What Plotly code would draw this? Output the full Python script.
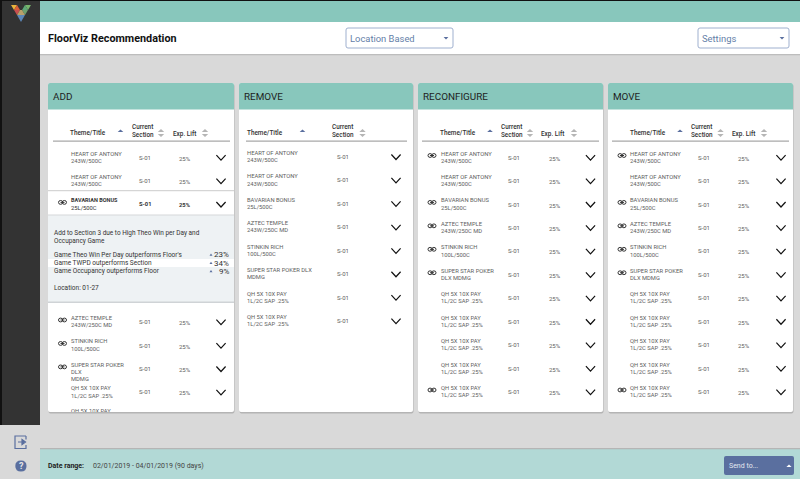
import plotly.graph_objects as go

# ---- content ----
PAGE_TITLE = "FloorViz Recommendation"
DROPDOWN_LOCATION = "Location Based"
DROPDOWN_SETTINGS = "Settings"
DATE_LABEL = "Date range:"
DATE_VALUE = "02/01/2019 - 04/01/2019 (90 days)"
SEND_LABEL = "Send to..."
HEART = ["HEART OF ANTONY", "243W/500C"]
BAVARIAN = ["BAVARIAN BONUS", "25L/500C"]
AZTEC = ["AZTEC TEMPLE", "243W/250C MD"]
STINKIN = ["STINKIN RICH", "100L/500C"]
QH = ["QH 5X 10X PAY", "1L/2C SAP .25%"]
SUPER_2 = ["SUPER STAR POKER", "DLX MDMG"]
SUPER_2B = ["SUPER STAR POKER DLX", "MDMG"]
SUPER_3 = ["SUPER STAR POKER", "DLX", "MDMG"]
SECTION = "S-01"
LIFT = "25%"
ADD_ROWS_TOP = [HEART, HEART]
ADD_SELECTED = BAVARIAN
ADD_ROWS_BOTTOM = [AZTEC, STINKIN, SUPER_3, QH]
REMOVE_ROWS = [HEART, HEART, BAVARIAN, AZTEC, STINKIN, SUPER_2B, QH, QH]
LONG_ROWS = [HEART, HEART, BAVARIAN, AZTEC, STINKIN, SUPER_2, QH, QH, QH, QH, QH]
LONG_LINKS = [True, False, True, True, True, True, False, False, False, False, True]
DETAIL_INTRO = ["Add to Section 3 due to High Theo Win per Day and", "Occupancy Game"]
DETAIL_LINES = ["Game Theo Win Per Day outperforms Floor's", "Game TWPD outperforms Section", "Game Occupancy outperforms Floor"]
DETAIL_VALUES = ["23%", "34%", "9%"]
DETAIL_LOCATION = "Location: 01-27"

W, H = 800, 479
TEAL = "#88C7BC"; GREY = "#D9D9D9"; DARK = "#333333"; BLUE = "#5A6F9F"; TXT = "#606060"
FONT = "Roboto"
shapes, notes = [], []


def rect(x0, y0, x1, y1, fill, r=0, line=None, lw=1, layer="below"):
    if r:
        p = (f"M{x0+r},{y0}L{x1-r},{y0}Q{x1},{y0} {x1},{y0+r}L{x1},{y1-r}Q{x1},{y1} {x1-r},{y1}"
             f"L{x0+r},{y1}Q{x0},{y1} {x0},{y1-r}L{x0},{y0+r}Q{x0},{y0} {x0+r},{y0}Z")
        shapes.append(dict(type="path", path=p, fillcolor=fill, line=dict(color=line or fill, width=lw if line else 0), layer=layer))
    else:
        shapes.append(dict(type="rect", x0=x0, y0=y0, x1=x1, y1=y1, fillcolor=fill, line=dict(width=0), layer=layer))


def path(d, fill=None, color=None, lw=1):
    shapes.append(dict(type="path", path=d, fillcolor=fill or "rgba(0,0,0,0)",
                       line=dict(color=color or "rgba(0,0,0,0)", width=lw if color else 0), layer="below"))


def text(x, y, s, size=7, color=TXT, anchor="left", bold=False, family=FONT):
    notes.append(dict(x=x, y=y, text=f"<b>{s}</b>" if bold else s, showarrow=False, xanchor=anchor, yanchor="middle",
                      font=dict(family=family, size=size, color=color), borderpad=0, borderwidth=0))


def tri(x, y, up=True, w=3.2, h=2.6, color=BLUE):
    s = -1 if up else 1
    path(f"M{x-w},{y}L{x+w},{y}L{x},{y+s*h}Z", fill=color)


def sort_pair(x, y):
    tri(x, y - 1, True, h=3, color="#B5B5B5")
    tri(x, y + 1, False, h=3, color="#B5B5B5")


def chevron(x, y):
    path(f"M{x-4.6},{y-2.6}L{x},{y+2.4}L{x+4.6},{y-2.6}", color="#111111", lw=1.2)


def link(x, y):
    for cx in (x - 1.9, x + 1.9):
        path(f"M{cx-2.1},{y}Q{cx-2.1},{y-1.9} {cx},{y-1.9}Q{cx+2.1},{y-1.9} {cx+2.1},{y}Q{cx+2.1},{y+1.9} {cx},{y+1.9}Q{cx-2.1},{y+1.9} {cx-2.1},{y}Z",
             color="#333333", lw=1.0)
    path(f"M{x-2},{y}L{x+2},{y}", color="#333333", lw=1.0)


def row(y, lines, xs, has_link=False, show_lift=True, bold=False):
    title_x, sec_x, lift_x, chev_x, link_x = xs
    c = "#333333" if bold else TXT
    for i, l in enumerate(lines):
        text(title_x, y + i * 7.2, l, size=5.5 if bold and i == 0 else 5.8, bold=bold and i == 0, color=c)
    text(sec_x, y + 3.6, SECTION, size=5.8 if bold else 6, bold=bold, color=c)
    if show_lift:
        text(lift_x, y + 4.6, LIFT, size=5.8 if bold else 6, bold=bold, color=c)
    chevron(chev_x, y + 4.2)
    if has_link:
        link(link_x, y + 2)


def panel(x0, x1, name):
    rect(x0 + 0.5, 84, x1 + 0.5, 413.5, "#B4B4B4", r=2)
    rect(x0, 83, x1, 412, "#FFFFFF", r=2)
    rect(x0, 83, x1, 109, TEAL, r=2)
    rect(x0, 100, x1, 109.5, TEAL)
    text(x0 + 5, 96, name, size=9.9, color="#1E1E1E")


def head(x0, x1, title_x, arrow_x, sec_x, sec_arrow, lift_x=None, lift_arrow=None):
    text(title_x, 132.5, "Theme/Title", size=6.4, color="#333333", family="Roboto Medium, Roboto")
    tri(arrow_x, 132, True, w=2.8, h=2.6)
    text(sec_x, 127, "Current", size=6.4, color="#333333", family="Roboto Medium, Roboto")
    text(sec_x, 134.5, "Section", size=6.4, color="#333333", family="Roboto Medium, Roboto")
    sort_pair(sec_arrow, 133)
    if lift_x:
        text(lift_x, 133.5, "Exp. Lift", size=6.4, color="#333333", family="Roboto Medium, Roboto")
        sort_pair(lift_arrow, 133)
    rect(x0, 140.5, x1, 141.8, "#A8A8A8")


# ---- page chrome ----
rect(0, 0, W, H, GREY)
rect(40, 0, W, 22, TEAL)
rect(40, 22, W, 54, "#FFFFFF")
rect(40, 54, W, 55.3, "#BDBDBD")
rect(0, 0, W, 1, "#111111")
rect(0, 0, 2, 425, "#111111")
rect(2, 1, 40, 425, DARK)
rect(40, 449, W, H, "#B2D9D6")
rect(40, 448, W, 449.3, "#B5B5B5")
text(48, 38.5, PAGE_TITLE, size=10.8, color="#111111", bold=True)

# logo
for pts, c in [
    ("M11,5L17,5L14,10Z", "#E8B33C"), ("M17,5L14,10L20,10Z", "#D95F3B"), ("M14,10L20,10L17,15Z", "#C94F4F"),
    ("M25,5L31,5L28,10Z", "#77B56C"), ("M25,5L22,10L28,10Z", "#5FA777"), ("M22,10L28,10L25,15Z", "#6E9F6E"),
    ("M17,15L25,15L21,22Z", "#5C86B8"), ("M20,10L22,10L25,15L17,15Z", "#B9A06A"),
]:
    path(pts, fill=c)

# dropdowns
for x0, x1, s in [(346, 453, DROPDOWN_LOCATION), (698, 789, DROPDOWN_SETTINGS)]:
    rect(x0, 28, x1, 48, "#FFFFFF", r=2, line="#9FB0CF", lw=1)
    text(x0 + 3.5, 38.5, s, size=9.4, color="#6480A8")
    tri(x1 - 7, 37, False, w=2.4, h=2.4)

# bottom bar
text(48, 466, DATE_LABEL, size=7, color="#222222", bold=True)
text(93, 466, DATE_VALUE, size=7, color="#444444")
rect(724, 456, 794, 475, BLUE, r=2)
text(729, 465.5, SEND_LABEL, size=7, color="#E3E8F0")
tri(789, 467, True, w=2.6, h=2.6, color="#FFFFFF")

# sidebar icons
path("M26,436L15,436L15,448.5L26,448.5L26,445M26,439.5L26,436", color=BLUE, lw=1.2)
path("M18,442L24,442M22,439.5L25.5,442L22,444.5Z", fill=BLUE, color=BLUE, lw=1.2)
path("M15.3,466Q15.3,460.5 21,460.5Q26.5,460.5 26.5,466Q26.5,471.5 21,471.5Q15.3,471.5 15.3,466Z", fill=BLUE)
text(21, 466, "?", size=9, color="#E6E6E6", anchor="center", bold=True)

# ---- panels ----
PITCH = 23.45
ROW0 = 153.5

# ADD
panel(48, 234, "ADD")
head(53, 230, 70, 120.5, 132, 161, 172.5, 205)
add_x = (71, 139, 179, 221, 62.5)
for i, r in enumerate(ADD_ROWS_TOP):
    row(ROW0 + i * PITCH, r, add_x)
rect(48, 190, 234, 191.2, "#D5D5D5")
row(ROW0 + 2 * PITCH, ADD_SELECTED, add_x, has_link=True, bold=True)
rect(48, 215, 234, 302, "#EEF2F4")
rect(48, 214.5, 234, 215.5, "#D5D8DA")
rect(48, 301.5, 234, 303, "#CFD3D6")
rect(48, 259, 234, 267, "#FFFFFF")
for i, s in enumerate(DETAIL_INTRO):
    text(54, 232.6 + i * 8, s, size=6.45, color="#333333")
for i, (s, v) in enumerate(zip(DETAIL_LINES, DETAIL_VALUES)):
    y = 254.8 + i * 8.2
    text(54, y, s, size=6.5, color="#333333")
    text(229, y, v, size=8, color="#333333", anchor="right")
    tri(211, y + 1, True, w=1.5, h=2.2)
text(54, 287.6, DETAIL_LOCATION, size=6.5, color="#333333")
add_y = 318
for r in ADD_ROWS_BOTTOM:
    row(add_y, r, add_x, has_link=r is not QH)
    add_y += PITCH

# REMOVE
panel(239, 413, "REMOVE")
head(246, 407, 247, 302.5, 332, 362.5)
rem_x = (247, 337, None, 396, None)
for i, r in enumerate(REMOVE_ROWS):
    row(ROW0 - 0.6 + i * PITCH, r, rem_x, show_lift=False)

# RECONFIGURE and MOVE
for x0, x1, name, hd, rx in [
    (418, 603, "RECONFIGURE", (422, 599, 439.5, 490, 501, 530, 541, 574), (440.5, 508, 548.5, 590.5, 432)),
    (608, 793, "MOVE", (612, 789, 629.5, 680, 691, 720.5, 732, 764), (630, 698, 738, 781, 622)),
]:
    panel(x0, x1, name)
    head(*hd)
    for i, (r, l) in enumerate(zip(LONG_ROWS, LONG_LINKS)):
        row(ROW0 + i * PITCH, r, rx, has_link=l)

fig = go.Figure()
# the next row of the ADD list runs off the bottom of the card, so it sits on axes that end at the card's edge
fig.add_trace(go.Scatter(x=[add_x[0]], y=[add_y], text=[QH[0]], mode="text", textposition="middle right",
                         textfont=dict(family=FONT, size=5.8, color=TXT), xaxis="x2", yaxis="y2",
                         hoverinfo="skip", showlegend=False))
fig.update_layout(
    width=W, height=H, margin=dict(l=0, r=0, t=0, b=0), paper_bgcolor=GREY, plot_bgcolor="rgba(0,0,0,0)",
    xaxis=dict(range=[0, W], visible=False, fixedrange=True),
    yaxis=dict(range=[H, 0], visible=False, fixedrange=True),
    xaxis2=dict(range=[0, W], visible=False, anchor="y2", overlaying="x", fixedrange=True),
    yaxis2=dict(range=[412, 0], domain=[1 - 412 / H, 1], visible=False, anchor="x2", fixedrange=True),
    shapes=[{**s, "xref": "x", "yref": "y"} for s in shapes],
    annotations=[{**a, "xref": "x", "yref": "y"} for a in notes],
    showlegend=False,
)
fig.write_html("out.html", config={"displayModeBar": False},
               post_script="document.body.style.margin='0';document.body.style.overflow='hidden';")
